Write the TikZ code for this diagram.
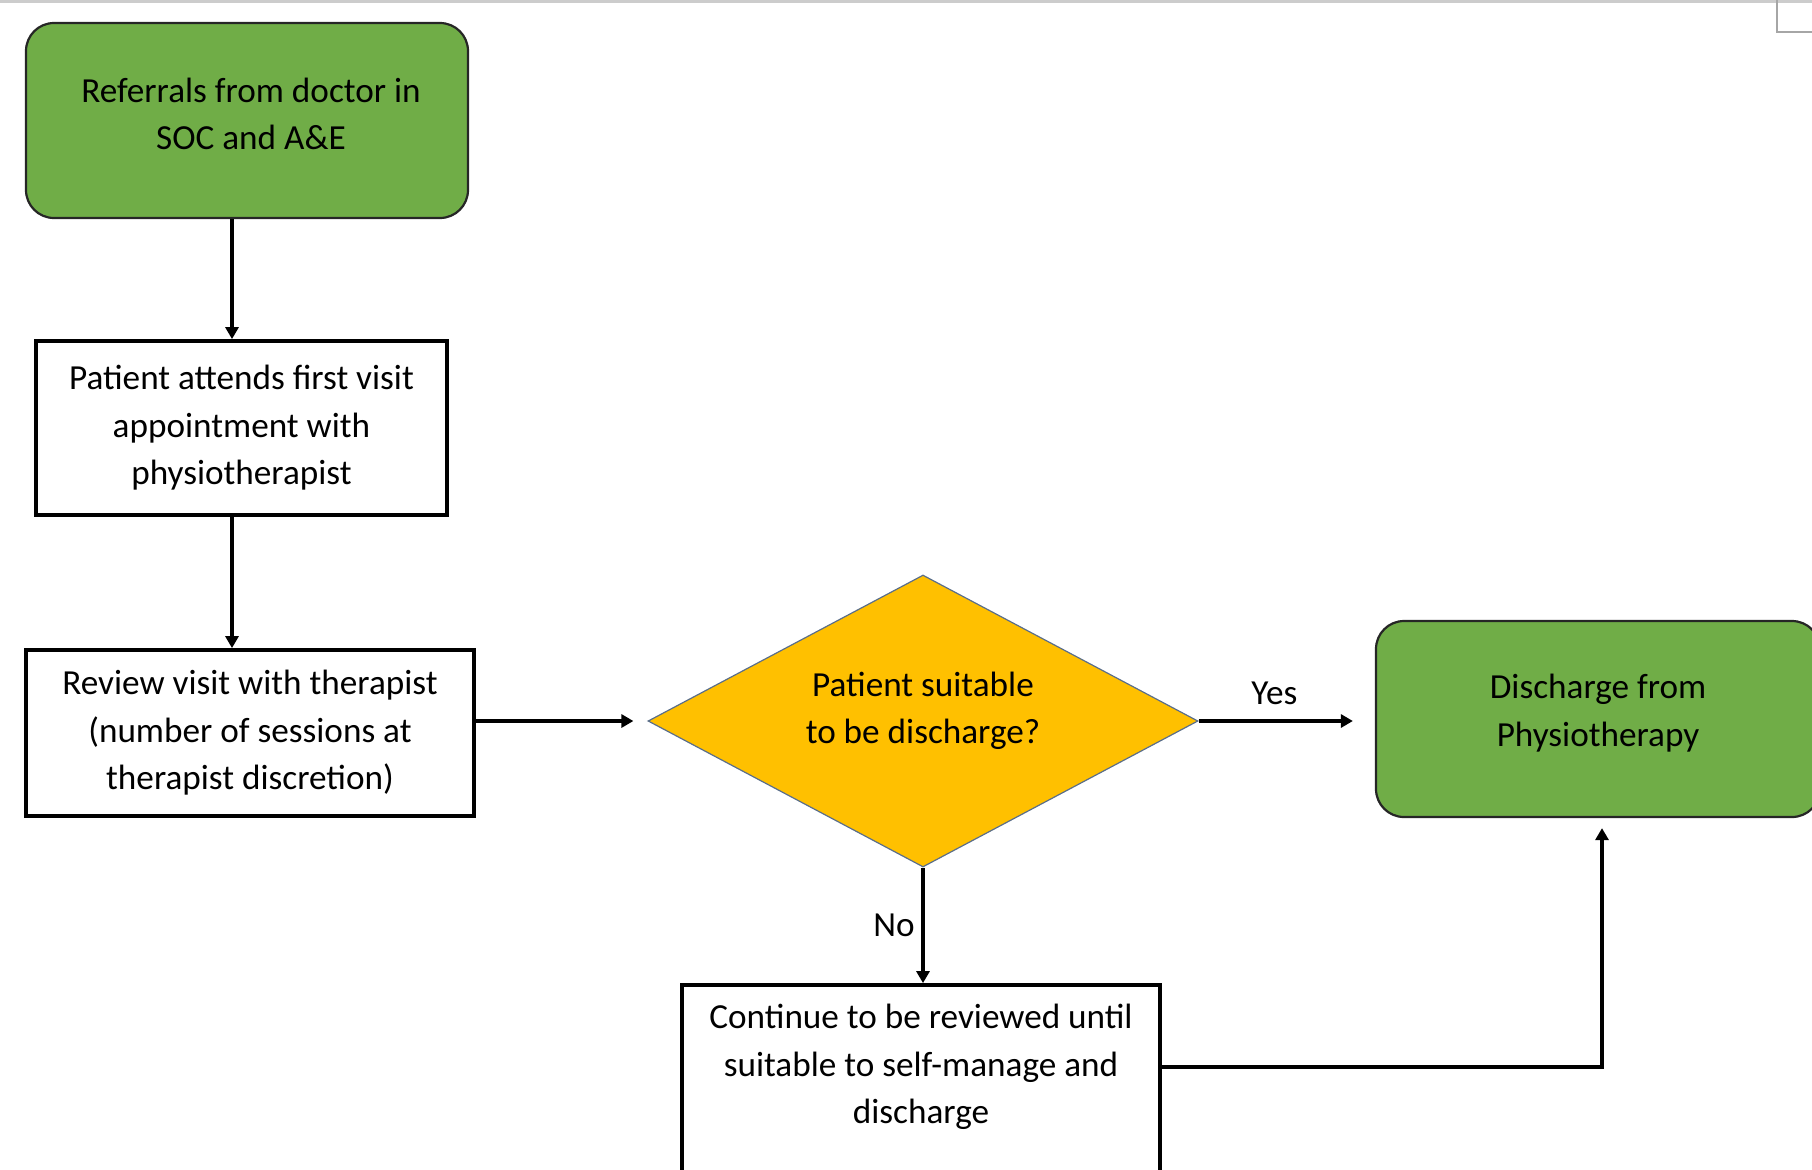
\documentclass[tikz,border=0pt]{standalone}
\usepackage{fontspec}
\setmainfont{Carlito}
\usetikzlibrary{shapes.geometric,arrows.meta}

\definecolor{boxgreen}{HTML}{70AD47}
\definecolor{boxyellow}{HTML}{FFC000}
\definecolor{diamondline}{HTML}{5A6E8A}

\begin{document}
\begin{tikzpicture}[x=0.5pt, y=-0.5pt,
        every node/.style={font=\fontsize{17.6}{23.7}\selectfont, align=center},
        greenbox/.style={draw=black!85, line width=1.1pt, fill=boxgreen, rounded corners=14pt},
        plainbox/.style={draw=black, line width=1.9pt, fill=white},
        question/.style={diamond, draw=diamondline, line width=0.6pt, fill=boxyellow, inner sep=0pt},
        arr/.style={line width=1.6pt, -{Triangle[length=6pt, width=6.5pt]}}
    ]
        \useasboundingbox (0, 0) rectangle (1812, 1169);
        \draw[black!20, line width=1.5pt] (0, 1) -- (1812, 1);
        \draw[black!35, line width=1pt] (1777, 0) -- (1777, 32) -- (1812, 32);

        \node[greenbox, minimum width=221pt, minimum height=97.5pt] (refer) at (247, 120.5) {};
        \node (refertxt) at (251, 114) {Referrals from doctor in\\SOC and A\&E};
        \node[plainbox, minimum width=205.5pt, minimum height=87pt] (first) at (241.5, 428) {Patient attends first visit\\appointment with\\physiotherapist};
        \node[plainbox, minimum width=223.75pt, minimum height=83pt] (review) at (250, 733) {Review visit with therapist\\(number of sessions at\\therapist discretion)};

        \node[question, minimum width=275pt, minimum height=146pt] (decide) at (923, 721) {};
        \node (decidetxt) at (923, 711) {Patient suitable\\to be discharge?};

        \node[greenbox, minimum width=222pt, minimum height=98pt] (done) at (1598, 719) {};
        \node (donetxt) at (1598, 713) {Discharge from\\Physiotherapy};

        \node[plainbox, minimum width=239pt, minimum height=117.5pt] (cont) at (921, 1102.5) {};
        \node (conttxt) at (921, 1067) {Continue to be reviewed until\\suitable to self-manage and\\discharge};

        \draw[arr] ([xshift=-7.5pt]refer.south) -- ([xshift=-7.5pt]refer.south |- first.north);
        \draw[arr] ([xshift=-4.75pt]first.south) -- ([xshift=-4.75pt]first.south |- review.north);
        \draw[arr, shorten >=7pt] (review.east |- decide) -- (decide.west);
        \draw[arr, shorten >=11pt] (decide.east) -- node[pos=0.43, above=4pt] {Yes} (decide.east -| done.west);
        \draw[arr] (decide.south) -- node[left] {No} (decide.south |- cont.north);
        \draw[arr, shorten >=5pt] (cont.east |- conttxt) -| ([xshift=2pt]done.south);
    \end{tikzpicture}
\end{document}
